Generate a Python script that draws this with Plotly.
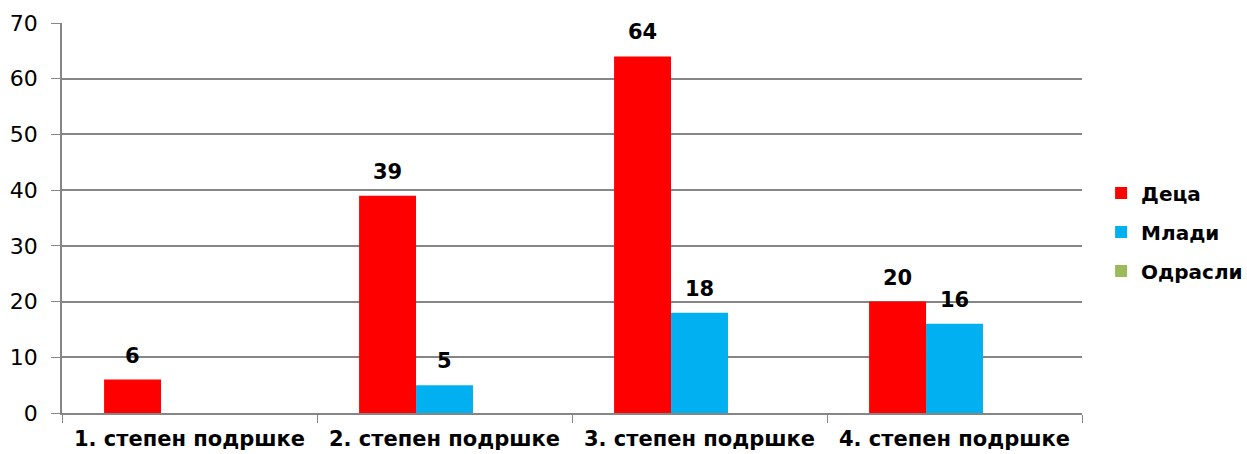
import plotly.graph_objs as go

categories = ["1. степен подршке", "2. степен подршке", "3. степен подршке", "4. степен подршке"]
series_names = ["Деца", "Млади", "Одрасли"]
deca = [6, 39, 64, 20]
mladi = [None, 5, 18, 16]
odrasli = [None, None, None, None]
colors = ["#FF0000", "#00B0F0", "#9BBB59"]

FONT = "DejaVu Sans, Verdana, sans-serif"
BARGAP = 0.33
PLOT_W = 1020  # plot area width in px

fig = go.Figure()

for i, (name, vals) in enumerate(zip(series_names, [deca, mladi, odrasli])):
    fig.add_trace(go.Bar(
        x=categories,
        y=vals,
        name=name,
        marker_color=colors[i],
        marker_line_width=0,
        legendgroup=name,
    ))

# value labels above the bars
bar_px = PLOT_W / len(categories) * (1 - BARGAP) / len(series_names)
for i, vals in enumerate([deca, mladi, odrasli]):
    for cat, v in zip(categories, vals):
        if v is None:
            continue
        fig.add_annotation(
            x=cat, y=v, text=str(v), showarrow=False,
            xshift=(i - 1) * bar_px, yshift=10, yanchor="bottom",
            font=dict(family=FONT, size=21, color="black", weight="bold"),
        )

fig.update_layout(
    width=1247, height=454,
    barmode="group",
    bargap=BARGAP,
    bargroupgap=0,
    margin=dict(l=62, r=165, t=23, b=41),
    paper_bgcolor="white",
    plot_bgcolor="white",
    font=dict(family=FONT, color="black"),
    legend=dict(
        x=0.883, y=0.464, xref="container", yref="paper",
        xanchor="left", yanchor="middle",
        font=dict(family=FONT, size=20, weight="bold"),
        tracegroupgap=10,
    ),
    xaxis=dict(
        showgrid=False, showline=True, linecolor="#868686", linewidth=1.5,
        ticks="outside", tickson="boundaries", ticklen=8, tickcolor="#868686",
        tickfont=dict(family=FONT, size=21, weight="bold"),
        ticklabelstandoff=6,
        zeroline=False, automargin=False,
    ),
    yaxis=dict(
        range=[0, 70], dtick=10,
        showgrid=True, gridcolor="#868686", gridwidth=1.5,
        showline=True, linecolor="#868686", linewidth=1.5,
        ticks="outside", ticklen=9, tickcolor="#868686",
        tickfont=dict(family=FONT, size=22),
        ticklabelstandoff=9,
        zeroline=False, automargin=False,
    ),
)

# drop the default 8px page margin so the figure fills the window exactly
fig.write_html(
    "out.html",
    config={"displayModeBar": False},
    post_script="document.body.style.margin = '0';",
)
